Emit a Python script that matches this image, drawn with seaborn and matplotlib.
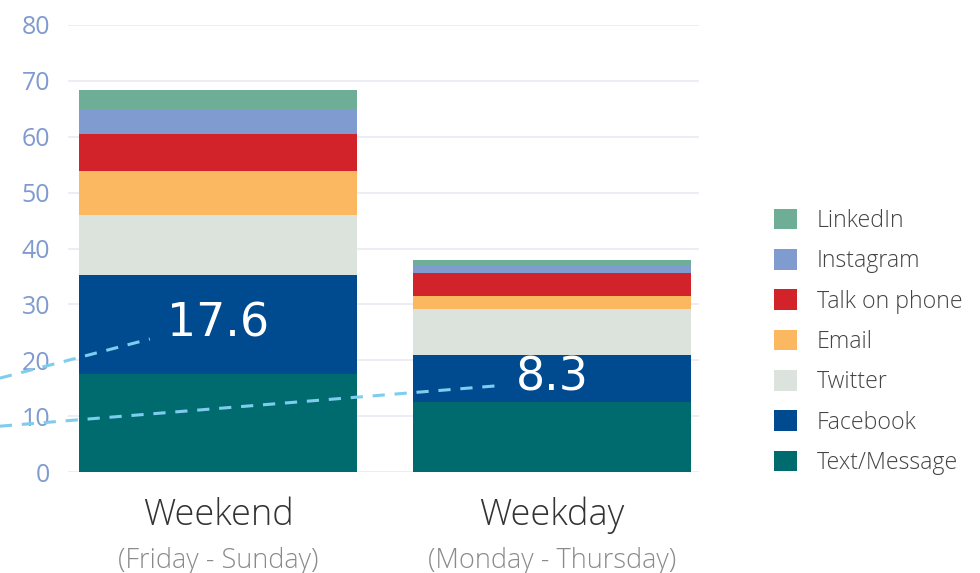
import numpy as np
import pandas as pd
import matplotlib
matplotlib.use("Agg")
import matplotlib.pyplot as plt
import seaborn as sns
from matplotlib.patches import Patch

# ---- data ----
periods = ["Weekend", "Weekday"]
period_sub = ["(Friday - Sunday)", "(Monday - Thursday)"]
series = ["Text/Message", "Facebook", "Twitter", "Email", "Talk on phone", "Instagram", "LinkedIn"]
weekend = [17.6, 17.6, 10.8, 7.8, 6.7, 4.4, 3.4]
weekday = [12.6, 8.3, 8.3, 2.3, 4.1, 1.4, 0.9]
colors = ["#006b6e", "#004a8f", "#dce3dc", "#fcb861", "#d2232a", "#7f9bd0", "#6fae96"]
yticks = [0, 10, 20, 30, 40, 50, 60, 70, 80]
highlight_series = "Facebook"

sns.set_theme(style="white")
plt.rcParams["font.family"] = ["Open Sans", "DejaVu Sans"]

fig = plt.figure(figsize=(9.8, 5.73), dpi=100)
ax = fig.add_axes([68 / 980, 1 - 472 / 573, 631 / 980, 447 / 573])

cum_we = np.cumsum(weekend)
cum_wd = np.cumsum(weekday)

# draw from top of stack to bottom (layered cumulative bars)
for i in range(len(series) - 1, -1, -1):
    df = pd.DataFrame({"period": periods, "value": [cum_we[i], cum_wd[i]]})
    sns.barplot(data=df, x="period", y="value", color=colors[i], width=0.832,
                saturation=1, ax=ax, zorder=2, linewidth=0)

ax.set_ylim(0, 80)
ax.set_xlim(-0.449, 1.44)
ax.set_yticks(yticks)
ax.set_yticklabels([str(t) for t in yticks])
ax.grid(axis="y", color="#e9eaf4", linewidth=1.2, zorder=0)
ax.set_axisbelow(True)
for s in ax.spines.values():
    s.set_visible(False)
ax.tick_params(axis="y", length=0, pad=13, labelsize=18, labelcolor="#7f9bcf")
ax.tick_params(axis="x", length=0)
ax.set_xticklabels([])
ax.set_xlabel("")
ax.set_ylabel("")

# category labels
for i, (p, sub) in enumerate(zip(periods, period_sub)):
    ax.annotate(p, xy=(i, 0), xycoords=("data", "axes fraction"),
                xytext=(0, -31), textcoords="offset points",
                ha="center", va="center", fontsize=26, color="#333333",
                fontweight="light")
    ax.annotate(sub, xy=(i, 0), xycoords=("data", "axes fraction"),
                xytext=(0, -64), textcoords="offset points",
                ha="center", va="center", fontsize=19.5, color="#8a8a8a",
                fontweight="light")

# highlight values + dashed callouts
hi = series.index(highlight_series)
vals = [weekend[hi], weekday[hi]]
mids = [cum_we[hi] - weekend[hi] / 2, cum_wd[hi] - weekday[hi] / 2]
for i, (v, m) in enumerate(zip(vals, mids)):
    ax.text(i, m, f"{v}", ha="center", va="center", color="white",
            fontsize=33, zorder=5, family=["DejaVu Sans"])

ax.plot([-0.653, -0.204], [16.8, 23.8], linestyle=(0, (4, 3.2)), color="#7fcdee",
        linewidth=2.2, clip_on=False, zorder=4)
ax.plot([-0.653, 0.829], [8.2, 15.4], linestyle=(0, (4, 3.2)), color="#7fcdee",
        linewidth=2.2, clip_on=False, zorder=4)

# legend
handles = [Patch(facecolor=colors[i], edgecolor="none", label=series[i])
           for i in range(len(series) - 1, -1, -1)]
fig.legend(handles=handles, loc="center left", bbox_to_anchor=(0.7684, 0.4035),
           bbox_transform=fig.transFigure, frameon=False,
           handlelength=1.0, handleheight=1.0, handletextpad=0.85,
           labelspacing=0.69, labelcolor="#444444", prop={"weight": "light", "size": 16.7})

fig.savefig("out.png", dpi=100)
